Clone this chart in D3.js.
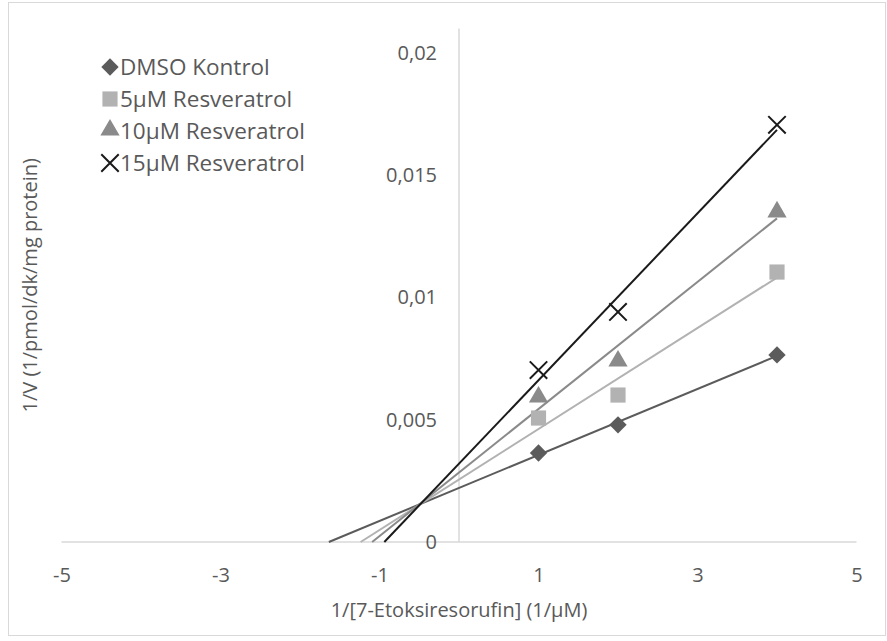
<!DOCTYPE html>
<html>
<head>
<meta charset="utf-8">
<script src="https://cdn.jsdelivr.net/npm/d3@7"></script>
<style>
    body { margin: 0; background: #fff; }
    svg text { font-family: "Open Sans", sans-serif; fill: #595959; }
</style>
</head>
<body>
<div id="chart"></div>
<script>
// data
const concentrations = [1, 2, 4];   // 1/[S] (1/µM)
const seriesNames = ["DMSO Kontrol", "5µM Resveratrol", "10µM Resveratrol", "15µM Resveratrol"];
const dmsoValues = [0.00364, 0.00479, 0.00765];
const res5Values = [0.00507, 0.00601, 0.01104];
const res10Values = [0.00589, 0.00736, 0.01346];
const res15Values = [0.00703, 0.00941, 0.01706];
const xTicks = [-5, -3, -1, 1, 3, 5];
const yTicks = [0, 0.005, 0.01, 0.015, 0.02];

const width = 887, height = 641;

const series = [
    {name: seriesNames[0], values: dmsoValues, symbol: "diamond", fill: "#5b5b5b", line: "#5b5b5b"},
    {name: seriesNames[1], values: res5Values, symbol: "square", fill: "#b2b2b2", line: "#b2b2b2"},
    {name: seriesNames[2], values: res10Values, symbol: "triangle", fill: "#8a8a8a", line: "#8a8a8a"},
    {name: seriesNames[3], values: res15Values, symbol: "cross", fill: "#1a1a1a", line: "#1a1a1a"}
];

const svg = d3.select("#chart").append("svg")
    .attr("width", width)
    .attr("height", height);

// outer chart border
svg.append("rect")
    .attr("x", 8.5).attr("y", 2.5)
    .attr("width", 877).attr("height", 633)
    .attr("fill", "none")
    .attr("stroke", "#d9d9d9");

const scaleX = d3.scaleLinear([-5, 5], [61.5, 856.5]);
const scaleY = d3.scaleLinear([0, 0.021], [542, 28.5]);

// axis lines
svg.append("line")
    .attr("x1", scaleX(-5)).attr("x2", scaleX(5))
    .attr("y1", scaleY(0)).attr("y2", scaleY(0))
    .attr("stroke", "#d9d9d9").attr("stroke-width", 1.5);
svg.append("line")
    .attr("x1", scaleX(0)).attr("x2", scaleX(0))
    .attr("y1", scaleY(0)).attr("y2", scaleY(0.021))
    .attr("stroke", "#d9d9d9").attr("stroke-width", 1.5);

const axisX = svg.append("g")
    .attr("transform", `translate(0,${scaleY(0)})`)
    .call(d3.axisBottom(scaleX).tickValues(xTicks).tickSize(0).tickPadding(26)
        .tickFormat(d => d < 0 ? "-" + Math.abs(d) : String(d)));
const axisY = svg.append("g")
    .attr("transform", `translate(${scaleX(0)},0)`)
    .call(d3.axisLeft(scaleY).tickValues(yTicks).tickSize(0).tickPadding(22)
        .tickFormat(d => String(d).replace(".", ",")));
[axisX, axisY].forEach(a => {
    a.select(".domain").remove();
    a.selectAll("text").style("font-size", "20px").attr("fill", "#595959")
        .style("font-family", "'Open Sans', sans-serif");
});

// axis titles
svg.append("text")
    .attr("x", scaleX(0)).attr("y", 617)
    .style("text-anchor", "middle").style("font-size", "20px")
    .text("1/[7-Etoksiresorufin] (1/µM)");
svg.append("text")
    .attr("transform", `translate(37,${(scaleY(0) + scaleY(0.021)) / 2})rotate(-90)`)
    .style("text-anchor", "middle").style("font-size", "20px")
    .text("1/V (1/pmol/dk/mg protein)");

// marker drawing helper
function drawMarker(g, type, color) {
    if (type === "diamond") {
        g.append("path").attr("d", d3.symbol(d3.symbolSquare, 150)())
            .attr("transform", "rotate(45)").attr("fill", color);
    } else if (type === "square") {
        g.append("path").attr("d", d3.symbol(d3.symbolSquare, 230)()).attr("fill", color);
    } else if (type === "triangle") {
        g.append("path").attr("d", d3.symbol(d3.symbolTriangle, 160)())
            .attr("transform", "translate(0,-1)").attr("fill", color);
    } else {
        g.append("path").attr("d", d3.symbol(d3.symbolTimes, 200)())
            .attr("fill", "none").attr("stroke", color).attr("stroke-width", 2);
    }
}

// linear trend lines (least squares), extended back to the x axis
const plot = svg.append("g");
series.forEach(s => {
    const pts = concentrations.map((x, i) => [x, s.values[i]]);
    const mx = d3.mean(pts, d => d[0]), my = d3.mean(pts, d => d[1]);
    const slope = d3.sum(pts, d => (d[0] - mx) * (d[1] - my)) / d3.sum(pts, d => (d[0] - mx) ** 2);
    const icpt = my - slope * mx;
    const x0 = -icpt / slope, x1 = d3.max(concentrations);
    plot.append("line")
        .attr("x1", scaleX(x0)).attr("y1", scaleY(0))
        .attr("x2", scaleX(x1)).attr("y2", scaleY(icpt + slope * x1))
        .attr("stroke", s.line).attr("stroke-width", 2);
});

series.forEach(s => {
    plot.selectAll(null)
        .data(concentrations.map((x, i) => [x, s.values[i]]))
        .join("g")
        .attr("transform", d => `translate(${scaleX(d[0])},${scaleY(d[1])})`)
        .each(function () { drawMarker(d3.select(this), s.symbol, s.fill); });
});

// legend
const legend = svg.append("g");
series.forEach((s, i) => {
    const row = legend.append("g").attr("transform", `translate(110,${67 + i * 32})`);
    drawMarker(row, s.symbol, s.fill);
    row.append("text")
        .attr("x", 10).attr("dy", "0.36em")
        .style("font-size", "22.5px")
        .text(s.name);
});
</script>
</body>
</html>
